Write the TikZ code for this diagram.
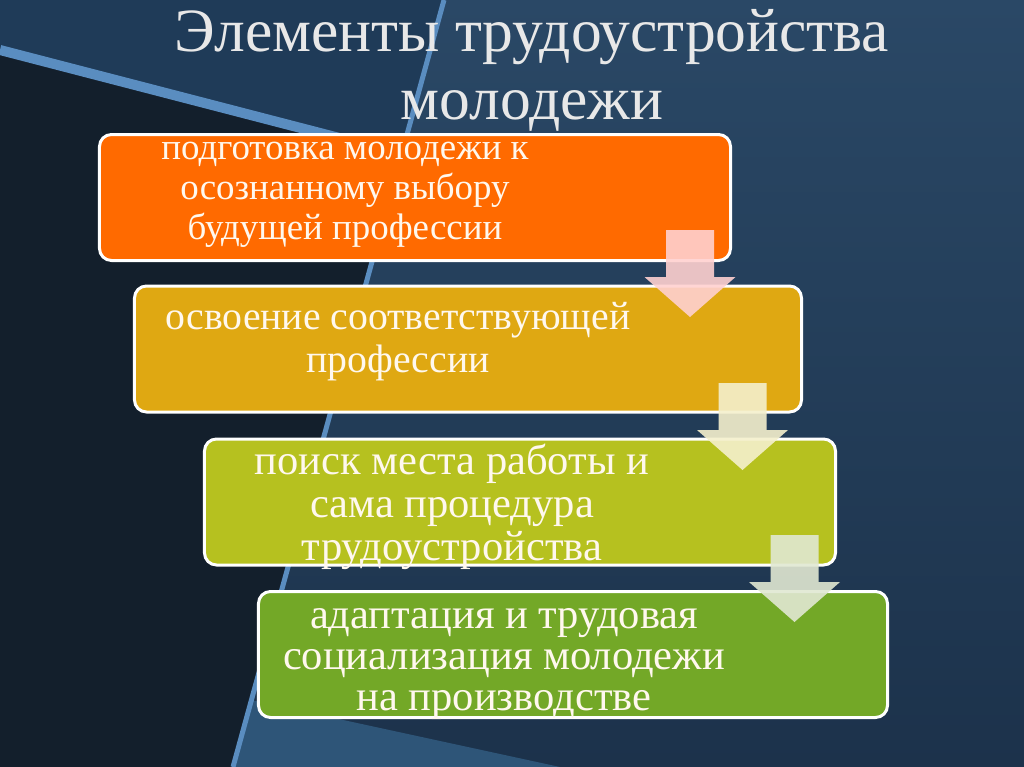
\documentclass[tikz,border=0pt]{standalone}
\usepackage{fontspec}
\setmainfont{Liberation Serif}
\usepackage{tikz}

\definecolor{bgtop}{HTML}{2A4866}
\definecolor{bgbottom}{HTML}{1C324B}
\definecolor{bgwedge}{HTML}{1F3B58}
\definecolor{bgdark}{HTML}{131F2C}
\definecolor{bglight}{HTML}{2E5578}
\definecolor{stripe}{HTML}{5A8DC0}
\definecolor{titlegray}{HTML}{E8E8E8}
\definecolor{textcream}{HTML}{FFF8EE}
\definecolor{stageone}{HTML}{FF6A00}
\definecolor{stagetwo}{HTML}{DFA812}
\definecolor{stagethree}{HTML}{B6C11F}
\definecolor{stagefour}{HTML}{73A827}
\definecolor{arrowone}{HTML}{FFD1D0}
\definecolor{arrowtwo}{HTML}{F5F0CD}
\definecolor{arrowthree}{HTML}{E1E8D2}

\tikzset{
  stage/.style={rectangle, rounded corners=2.4mm, draw=white, line width=0.6mm,
    minimum height=25.2mm, inner sep=0pt},
  stagetext/.style={align=center, text=textcream, inner sep=0pt},
  blockarrow/.style={draw=none, fill opacity=0.9}
}

\begin{document}
\begin{tikzpicture}[x=0.2mm, y=-0.2mm]
      \useasboundingbox (0,0) rectangle (1024,767);
      \fill[top color=bgtop, bottom color=bgbottom] (0,0) rectangle (1024,767);
      \fill[bgwedge] (0,0) -- (444,0) -- (401,154) -- (0,50) -- cycle;
      \fill[bgdark] (0,50) -- (401,154) -- (233,767) -- (0,767) -- cycle;
      \fill[bglight] (251,700) -- (560,767) -- (233,767) -- cycle;
      \draw[stripe, line width=2mm] (0,50) -- (401,154);
      \draw[stripe, line width=1mm] (444,0) -- (233,767);

      \node[text=titlegray, align=center, anchor=north, inner sep=0pt,
        font=\fontsize{35}{39}\selectfont] (title) at (532,9)
        {Элементы трудоустройства\\молодежи};

      \node[stage, fill=stageone, minimum width=126.2mm] (b1) at (415,197.5) {};
      \node[stage, fill=stagetwo, minimum width=133.4mm] (b2) at (468,349) {};
      \node[stage, fill=stagethree, minimum width=126.2mm] (b3) at (520,502) {};
      \node[stage, fill=stagefour, minimum width=125.8mm] (b4) at (573,654.5) {};

      \node[stagetext, font=\fontsize{21}{22.8}\selectfont] (t1)
        at ([xshift=-14mm, yshift=0.6mm]b1)
        {подготовка молодежи к\\осознанному выбору\\будущей профессии};
      \node[stagetext, font=\fontsize{22.6}{24.5}\selectfont] (t2)
        at ([xshift=-14mm, yshift=1.4mm]b2)
        {освоение соответствующей\\профессии};
      \node[stagetext, font=\fontsize{24.2}{24.3}\selectfont] (t3)
        at ([xshift=-13.6mm, yshift=-1mm]b3)
        {поиск места работы и\\сама процедура\\трудоустройства};
      \node[stagetext, font=\fontsize{24.2}{23.2}\selectfont] (t4)
        at ([xshift=-13.8mm, yshift=-1.9mm]b4)
        {адаптация и трудовая\\социализация молодежи\\на производстве};

      \foreach \cx/\ty/\col in {690/230/arrowone, 742.5/383/arrowtwo, 794.5/535/arrowthree}
        \fill[blockarrow, \col] ({\cx-24},\ty) -- ({\cx+24},\ty) -- ({\cx+24},{\ty+47})
          -- ({\cx+45.5},{\ty+47}) -- (\cx,{\ty+87}) -- ({\cx-45.5},{\ty+47})
          -- ({\cx-24},{\ty+47}) -- cycle;
    \end{tikzpicture}
\end{document}
